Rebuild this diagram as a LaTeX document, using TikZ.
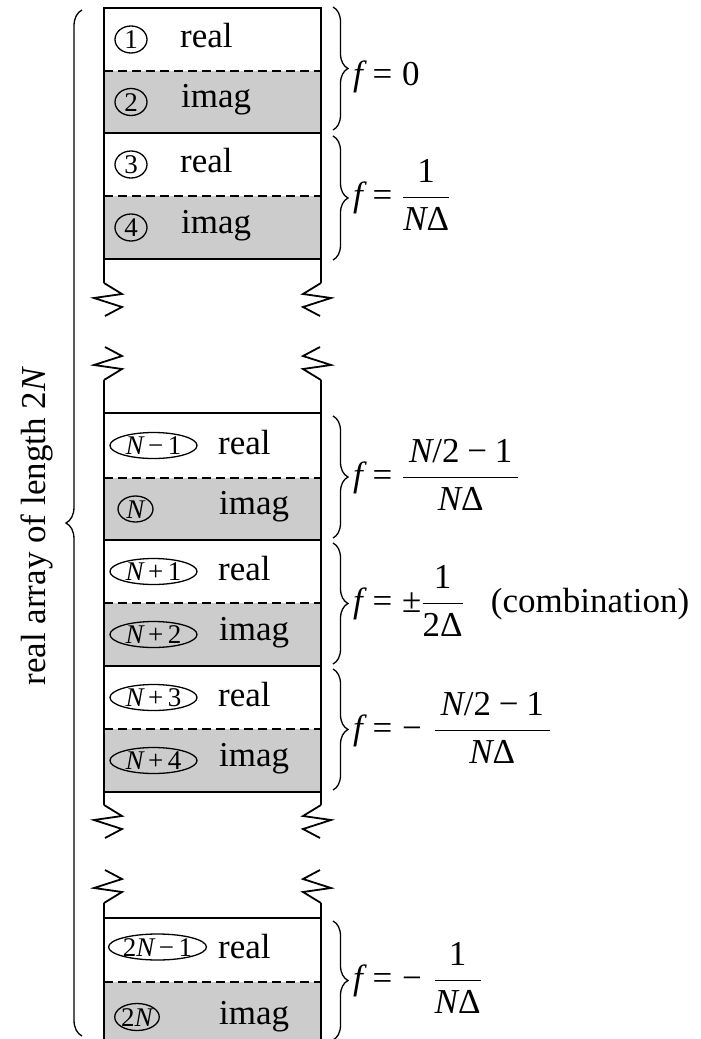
\RequirePackage{fix-cm}
\documentclass[tikz,border=0pt]{standalone}
\usepackage{fontspec}
\setmainfont{Liberation Serif}
\usetikzlibrary{shapes.geometric,decorations.pathreplacing}
\definecolor{cellgray}{RGB}{204,204,204}
\newcommand\iv[1]{\mbox{\itshape #1}}
\newcommand\tv[1]{\mbox{#1}}
\newcommand\bigfs{\fontsize{35}{42}\selectfont}
\newcommand\smallfs{\fontsize{27}{32}\selectfont}
\begin{document}
\begin{tikzpicture}[x=1pt,y=-1pt,
  boxline/.style={line width=1.8pt},
  dashline/.style={line width=1.5pt, dash pattern=on 9pt off 5pt},
  cellfill/.style={fill=cellgray, draw=none},
  word/.style={anchor=base west, inner sep=0pt, font=\bigfs},
  idx/.style={ellipse, draw, line width=1.3pt, inner sep=0pt, text height=18pt, text depth=0pt, font=\smallfs},
  smallidx/.style={idx, minimum width=32pt, minimum height=27pt},
  wideidx/.style={idx, minimum width=87pt, minimum height=26pt},
  rbrace/.style={decorate, decoration={brace, amplitude=15pt}, line width=1.3pt},
  lbrace/.style={decorate, decoration={brace, amplitude=16pt}, line width=1.3pt},
  flabel/.style={anchor=base west, inner sep=0pt, font=\bigfs},
]
\useasboundingbox (0,0) rectangle (701,1039);

% gray imag cells
\fill[cellfill] (104,71) rectangle (321,133);
\fill[cellfill] (104,196) rectangle (321,259);
\fill[cellfill] (104,478) rectangle (321,540);
\fill[cellfill] (104,603) rectangle (321,666);
\fill[cellfill] (104,729) rectangle (321,792);
\fill[cellfill] (104,982) rectangle (321,1046);

% section 1
\draw[boxline] (104,283) -- (104,8) -- (321,8) -- (321,283);
\draw[boxline] (104,133) -- (321,133);
\draw[boxline] (104,259) -- (321,259);
\draw[dashline] (104,71) -- (321,71);
\draw[dashline] (104,196) -- (321,196);
% zigzags 1
\draw[boxline] (104,283) -- ++(18,11) -- ++(-28,4) -- ++(28,9) -- ++(-17,9);
\draw[boxline] (321,283) -- ++(-18,11) -- ++(28,4) -- ++(-28,9) -- ++(17,9);
\draw[boxline] (105,347) -- ++(17,9) -- ++(-28,9) -- ++(28,4) -- ++(-18,11);
\draw[boxline] (320,347) -- ++(-17,9) -- ++(28,9) -- ++(-28,4) -- ++(18,11);

% section 2
\draw[boxline] (104,380) -- (104,805);
\draw[boxline] (321,380) -- (321,805);
\draw[boxline] (104,413) -- (321,413);
\draw[boxline] (104,540) -- (321,540);
\draw[boxline] (104,666) -- (321,666);
\draw[boxline] (104,792) -- (321,792);
\draw[dashline] (104,478) -- (321,478);
\draw[dashline] (104,603) -- (321,603);
\draw[dashline] (104,729) -- (321,729);
% zigzags 2
\draw[boxline] (104,805) -- ++(18,11) -- ++(-28,4) -- ++(28,9) -- ++(-17,9);
\draw[boxline] (321,805) -- ++(-18,11) -- ++(28,4) -- ++(-28,9) -- ++(17,9);
\draw[boxline] (105,870) -- ++(17,9) -- ++(-28,9) -- ++(28,4) -- ++(-18,11);
\draw[boxline] (320,870) -- ++(-17,9) -- ++(28,9) -- ++(-28,4) -- ++(18,11);

% section 3
\draw[boxline] (104,903) -- (104,1046) -- (321,1046) -- (321,903);
\draw[boxline] (104,918) -- (321,918);
\draw[dashline] (104,982) -- (321,982);

% index marks and words
\node[smallidx] (i1) at (131,39.5) {1};
\node[word] (w1) at (180,47.5) {real};
\node[smallidx] (i2) at (131,102) {2};
\node[word] (w2) at (181,107.5) {imag};
\node[smallidx] (i3) at (131,164.5) {3};
\node[word] (w3) at (180,172.5) {real};
\node[smallidx] (i4) at (131,227.5) {4};
\node[word] (w4) at (181,233) {imag};

\node[wideidx] (iN1) at (153.5,445.5) {\itshape N\,\upshape −\,1};
\node[word] (wN1) at (218,454) {real};
\node[idx, minimum width=35pt, minimum height=26pt] (iN) at (135.5,509) {\itshape N};
\node[word] (wN) at (219,514.5) {imag};
\node[wideidx] (iN1p) at (153.5,571.5) {\itshape N\,\upshape +\,1};
\node[word] (wN1p) at (218,580) {real};
\node[wideidx] (iN2) at (153.5,634.5) {\itshape N\,\upshape +\,2};
\node[word] (wN2) at (219,640) {imag};
\node[wideidx] (iN3) at (153.5,697.5) {\itshape N\,\upshape +\,3};
\node[word] (wN3) at (218,706) {real};
\node[wideidx] (iN4) at (153.5,760.5) {\itshape N\,\upshape +\,4};
\node[word] (wN4) at (219,766) {imag};

\node[wideidx] (i2N1) at (157.5,947) {2\itshape N\,\upshape −\,1};
\node[word] (w2N1) at (218,958) {real};
\node[idx, minimum width=38pt, minimum height=27pt] (i2N) at (137,1017) {2\itshape N};
\node[word] (w2N) at (219,1024) {imag};

% right braces
\draw[rbrace] (333,7) -- (333,130) coordinate (b1);
\draw[rbrace] (333,136) -- (333,260) coordinate (b2);
\draw[rbrace] (333,416) -- (333,538) coordinate (b3);
\draw[rbrace] (333,543) -- (333,664) coordinate (b4);
\draw[rbrace] (333,669) -- (333,790) coordinate (b5);
\draw[rbrace] (333,921) -- (333,1040) coordinate (b6);

\node[flabel] (f1) at (353,85) {$\iv{f}\mathrel{\tv{=}}\tv{0}$};
\node[flabel] (f2) at (353,206) {$\displaystyle\iv{f}\mathrel{\tv{=}}\frac{\tv{1}}{\iv{N}\tv{Δ}}$};
\node[flabel] (f3) at (353,486) {$\displaystyle\iv{f}\mathrel{\tv{=}}\frac{\,\iv{N}\tv{/2}\mathbin{\tv{−}}\tv{1}\,}{\iv{N}\tv{Δ}}$};
\node[flabel] (f4) at (353,612) {$\displaystyle\iv{f}\mathrel{\tv{=}}\tv{±}\frac{\tv{1}}{\tv{2Δ}}\mkern14mu\tv{(combination)}$};
\node[flabel] (f5) at (353,739) {$\displaystyle\iv{f}\mathrel{\tv{=}}\tv{−}\mkern6mu\frac{\,\iv{N}\tv{/2}\mathbin{\tv{−}}\tv{1}\,}{\iv{N}\tv{Δ}}$};
\node[flabel] (f6) at (353,989) {$\displaystyle\iv{f}\mathrel{\tv{=}}\tv{−}\mkern6mu\frac{\tv{1}}{\iv{N}\tv{Δ}}$};

% left brace and caption
\draw[lbrace] (82,1036) -- (82,10) coordinate (lb);
\node[rotate=90, inner sep=0pt, font=\bigfs] (cap) at (37,527) {real array of length 2\itshape N};
\end{tikzpicture}
\end{document}
